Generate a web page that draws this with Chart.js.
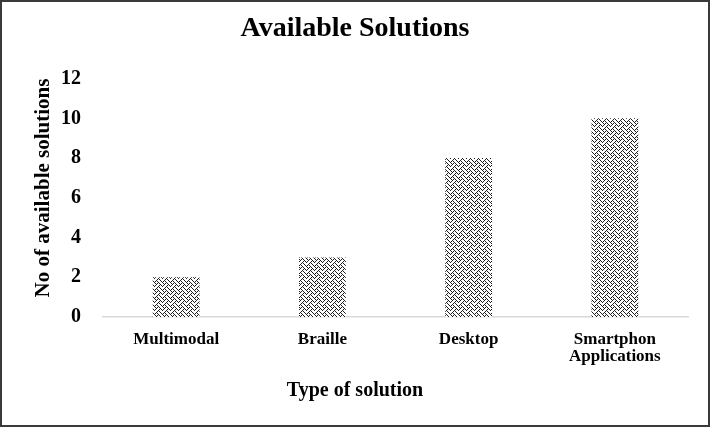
<html>
    <head>
        <meta name="viewport" content="width=device-width, initial-scale=1.0">
        <meta http-equiv="content-type" content="text/html; charset=UTF-8">
        <script src="https://cdn.jsdelivr.net/npm/chart.js"></script>
        <title>Available Solutions</title>
        <style>
            body { margin: 0; background: #fff; }
            .frame { width: 710px; height: 427px; box-sizing: border-box; border: 2px solid #3a3a3a; position: relative; }
        </style>
    </head>
    <body>
        <div class="frame">
            <canvas id="solutions"></canvas>
        </div>

        <script>
            const categories = ['Multimodal', 'Braille', 'Desktop', ['Smartphon', 'Applications']];
            const solutions = [2, 3, 8, 10];
            const yTicks = [0, 2, 4, 6, 8, 10, 12];

            const serif = '"Liberation Serif", "Times New Roman", serif';

            // 8x8 weave tile, like the office pattern fill
            const weave = [
                '10001000',
                '01010100',
                '00100010',
                '01000101',
                '10001000',
                '00010100',
                '00100010',
                '01010001'
            ];

            function makePattern(ctx) {
                var tile = document.createElement('canvas');
                tile.width = 8;
                tile.height = 8;
                var t = tile.getContext('2d');
                t.fillStyle = '#ffffff';
                t.fillRect(0, 0, 8, 8);
                t.fillStyle = '#1e1e1e';
                weave.forEach((row, y) => {
                    for (var x = 0; x < 8; x++) {
                        if (row[x] === '1') t.fillRect(x, y, 1, 1);
                    }
                });
                return ctx.createPattern(tile, 'repeat');
            }

            var ctx = document.getElementById('solutions');
            var pattern = makePattern(ctx.getContext('2d'));

            var chart = new Chart(ctx, {
                type: 'bar',
                data: {
                    labels: categories,
                    datasets: [{
                        label: 'No of available solutions',
                        data: solutions,
                        backgroundColor: pattern,
                        borderWidth: 0,
                        barPercentage: 0.32,
                        categoryPercentage: 1
                    }]
                },
                options: {
                    animation: false,
                    responsive: true,
                    maintainAspectRatio: false,
                    layout: { padding: { left: 20, right: 20, top: 0, bottom: 22 } },
                    plugins: {
                        legend: { display: false },
                        tooltip: { enabled: false },
                        title: {
                            display: true,
                            text: 'Available Solutions',
                            color: '#000',
                            font: { family: serif, size: 28, weight: 'bold' },
                            padding: { top: 10, bottom: 33 }
                        },
                        subtitle: {
                            display: true,
                            position: 'bottom',
                            text: 'Type of solution',
                            color: '#000',
                            font: { family: serif, size: 20, weight: 'bold' },
                            padding: { top: 0, bottom: 0 }
                        }
                    },
                    scales: {
                        x: {
                            grid: { display: false, drawTicks: false },
                            border: { display: true, color: '#d9d9d9', width: 1.5 },
                            ticks: {
                                color: '#000',
                                padding: 14,
                                maxRotation: 0,
                                font: { family: serif, size: 17, weight: 'bold', lineHeight: 1.0 }
                            }
                        },
                        y: {
                            min: 0,
                            max: 12,
                            afterBuildTicks: (axis) => {
                                axis.ticks = yTicks.map(v => ({ value: v }));
                            },
                            afterFit: (axis) => {
                                axis.width = 81;
                            },
                            grid: { display: false, drawTicks: false },
                            border: { display: false },
                            title: {
                                display: true,
                                text: 'No of available solutions',
                                align: 'end',
                                color: '#000',
                                font: { family: serif, size: 21, weight: 'bold' },
                                padding: { top: 9, bottom: 0 }
                            },
                            ticks: {
                                color: '#000',
                                padding: 22,
                                font: { family: serif, size: 20, weight: 'bold' }
                            }
                        }
                    }
                }
            });
        </script>
    </body>
</html>
